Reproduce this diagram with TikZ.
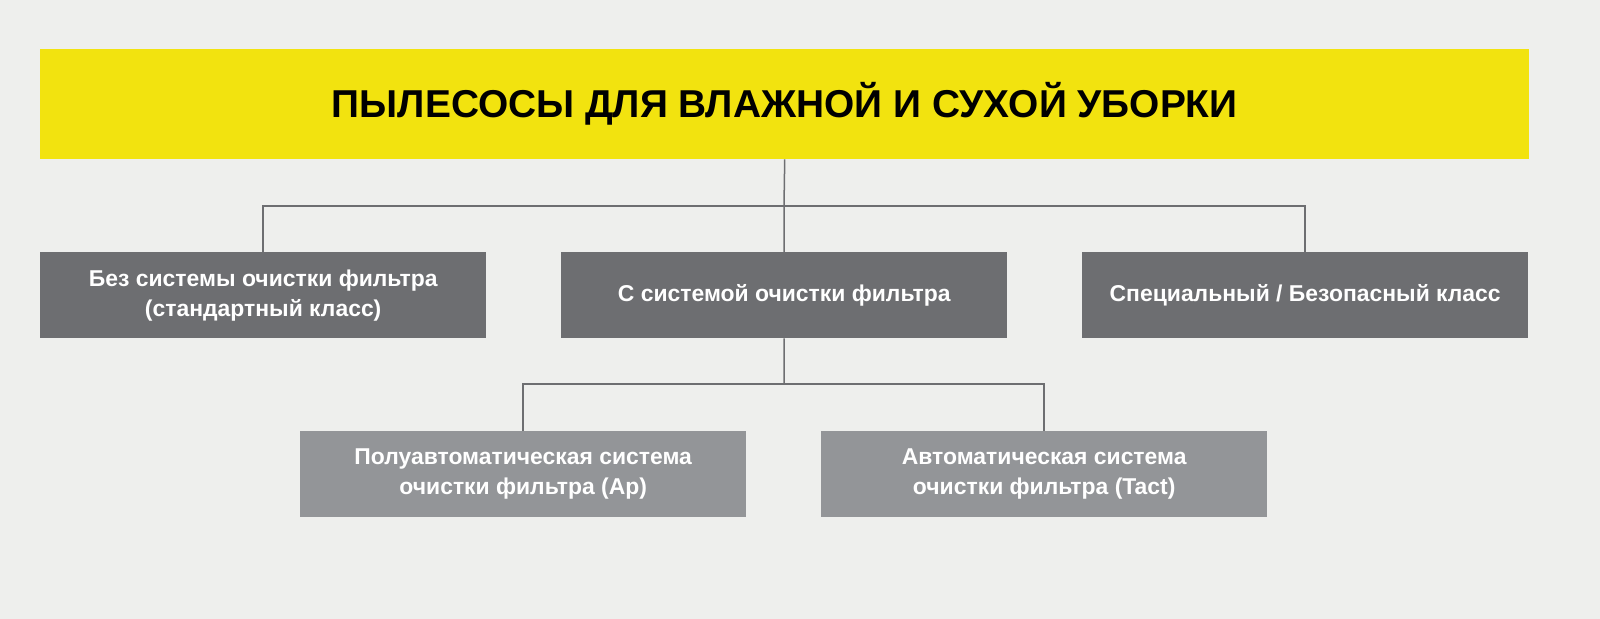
\documentclass[tikz,border=0pt]{standalone}
\usepackage{fontspec}
\setmainfont{Liberation Sans}
\definecolor{bg}{HTML}{EEEFED}
\definecolor{ttl}{HTML}{F2E30F}
\definecolor{dk}{HTML}{6D6E71}
\definecolor{lt}{HTML}{939598}
\definecolor{ln}{HTML}{6D6E71}
\tikzset{
 boxA/.style={fill=dk,draw=none,minimum width=446bp,minimum height=86bp,text=white,font=\fontsize{23}{30}\selectfont\bfseries,align=center,anchor=north west,inner sep=0},
 boxB/.style={boxA,fill=lt},
 conn/.style={draw=ln,line width=1.5bp}
}
\begin{document}
\begin{tikzpicture}[x=1bp,y=-1bp]
\fill[bg] (0,0) rectangle (1600,619);
\useasboundingbox (0,0) rectangle (1600,619);
\node[fill=ttl,minimum width=1489bp,minimum height=110bp,anchor=north west,inner sep=0,font=\fontsize{39}{44}\selectfont\bfseries] (t) at (40,49) {ПЫЛЕСОСЫ ДЛЯ ВЛАЖНОЙ И СУХОЙ УБОРКИ};
\node[boxA] (a) at (40,252) {Без системы очистки фильтра\\(стандартный класс)};
\node[boxA] (b) at (561,252) {С системой очистки фильтра};
\node[boxA] (c) at (1082,252) {Специальный / Безопасный класс};
\node[boxB] (d) at (300,431) {Полуавтоматическая система\\очистки фильтра (Ap)};
\node[boxB] (e) at (821,431) {Автоматическая система\\очистки фильтра (Tact)};
\coordinate (j1) at (784,206);
\coordinate (j2) at (784,384);
\draw[conn] (t.south) -- (j1);
\draw[conn] (a.north) |- (j1) -| (c.north);
\draw[conn] (j1) -- (b.north);
\draw[conn] (b.south) -- (j2);
\draw[conn] (d.north) |- (j2) -| (e.north);
\end{tikzpicture}
\end{document}
